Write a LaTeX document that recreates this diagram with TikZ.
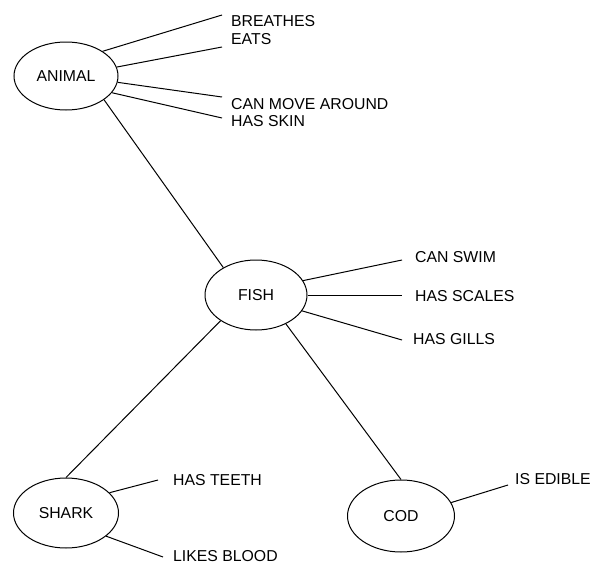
\documentclass[tikz,border=0pt]{standalone}
\usepackage{fontspec}
\setmainfont{Liberation Sans}
\usetikzlibrary{shapes.geometric}
\begin{document}
\begin{tikzpicture}[x=1pt,y=-1pt,
  concept/.style={ellipse,draw,line width=1pt,inner sep=0pt,font=\fontsize{15.8}{17}\selectfont},
  attr/.style={anchor=west,inner sep=0pt,font=\fontsize{15.8}{17}\selectfont},
  link/.style={line width=1pt}]
\useasboundingbox (0,0) rectangle (592,565);
% concepts
\node[concept,minimum width=104pt,minimum height=68pt] (animal) at (66,76) {ANIMAL};
\node[concept,minimum width=102pt,minimum height=70pt] (fish) at (256,295) {FISH};
\node[concept,minimum width=105pt,minimum height=70pt] (shark) at (66,513) {SHARK};
\node[concept,minimum width=107pt,minimum height=72pt] (cod) at (401,516) {COD};
% attribute texts
\node[attr] (breathes) at (231,21) {BREATHES};
\node[attr] (eats) at (231,39) {EATS};
\node[attr] (move) at (231,104) {CAN MOVE AROUND};
\node[attr] (skin) at (231,121) {HAS SKIN};
\node[attr] (swim) at (415,257) {CAN SWIM};
\node[attr] (scales) at (415,296) {HAS SCALES};
\node[attr] (gills) at (413,339) {HAS GILLS};
\node[attr] (teeth) at (173,480) {HAS TEETH};
\node[attr] (blood) at (173,556) {LIKES BLOOD};
\node[attr] (edible) at (515,479) {IS EDIBLE};
% line ends
\coordinate (b1) at (222,15);
\coordinate (b2) at (222,47);
\coordinate (b3) at (222,97);
\coordinate (b4) at (222,118);
\coordinate (f1) at (402,260);
\coordinate (f2) at (402,295);
\coordinate (f3) at (402,340);
\coordinate (s1) at (158,480);
\coordinate (s2) at (163,557);
\coordinate (c1) at (508,485);
% connectors
\draw[link] (animal.34) -- (b1);
\draw[link] (animal.10) -- (b2);
\draw[link] (animal.-7) -- (b3);
\draw[link] (animal.-20) -- (b4);
\draw[link] (animal.-32) -- (fish.140);
\draw[link] (fish.17) -- (f1);
\draw[link] (fish.0) -- (f2);
\draw[link] (fish.-19) -- (f3);
\draw[link] (fish.216) -- (shark.90);
\draw[link] (fish.-44) -- (cod.90);
\draw[link] (shark.25) -- (s1);
\draw[link] (shark.-30) -- (s2);
\draw[link] (cod.15) -- (c1);
\end{tikzpicture}
\end{document}
